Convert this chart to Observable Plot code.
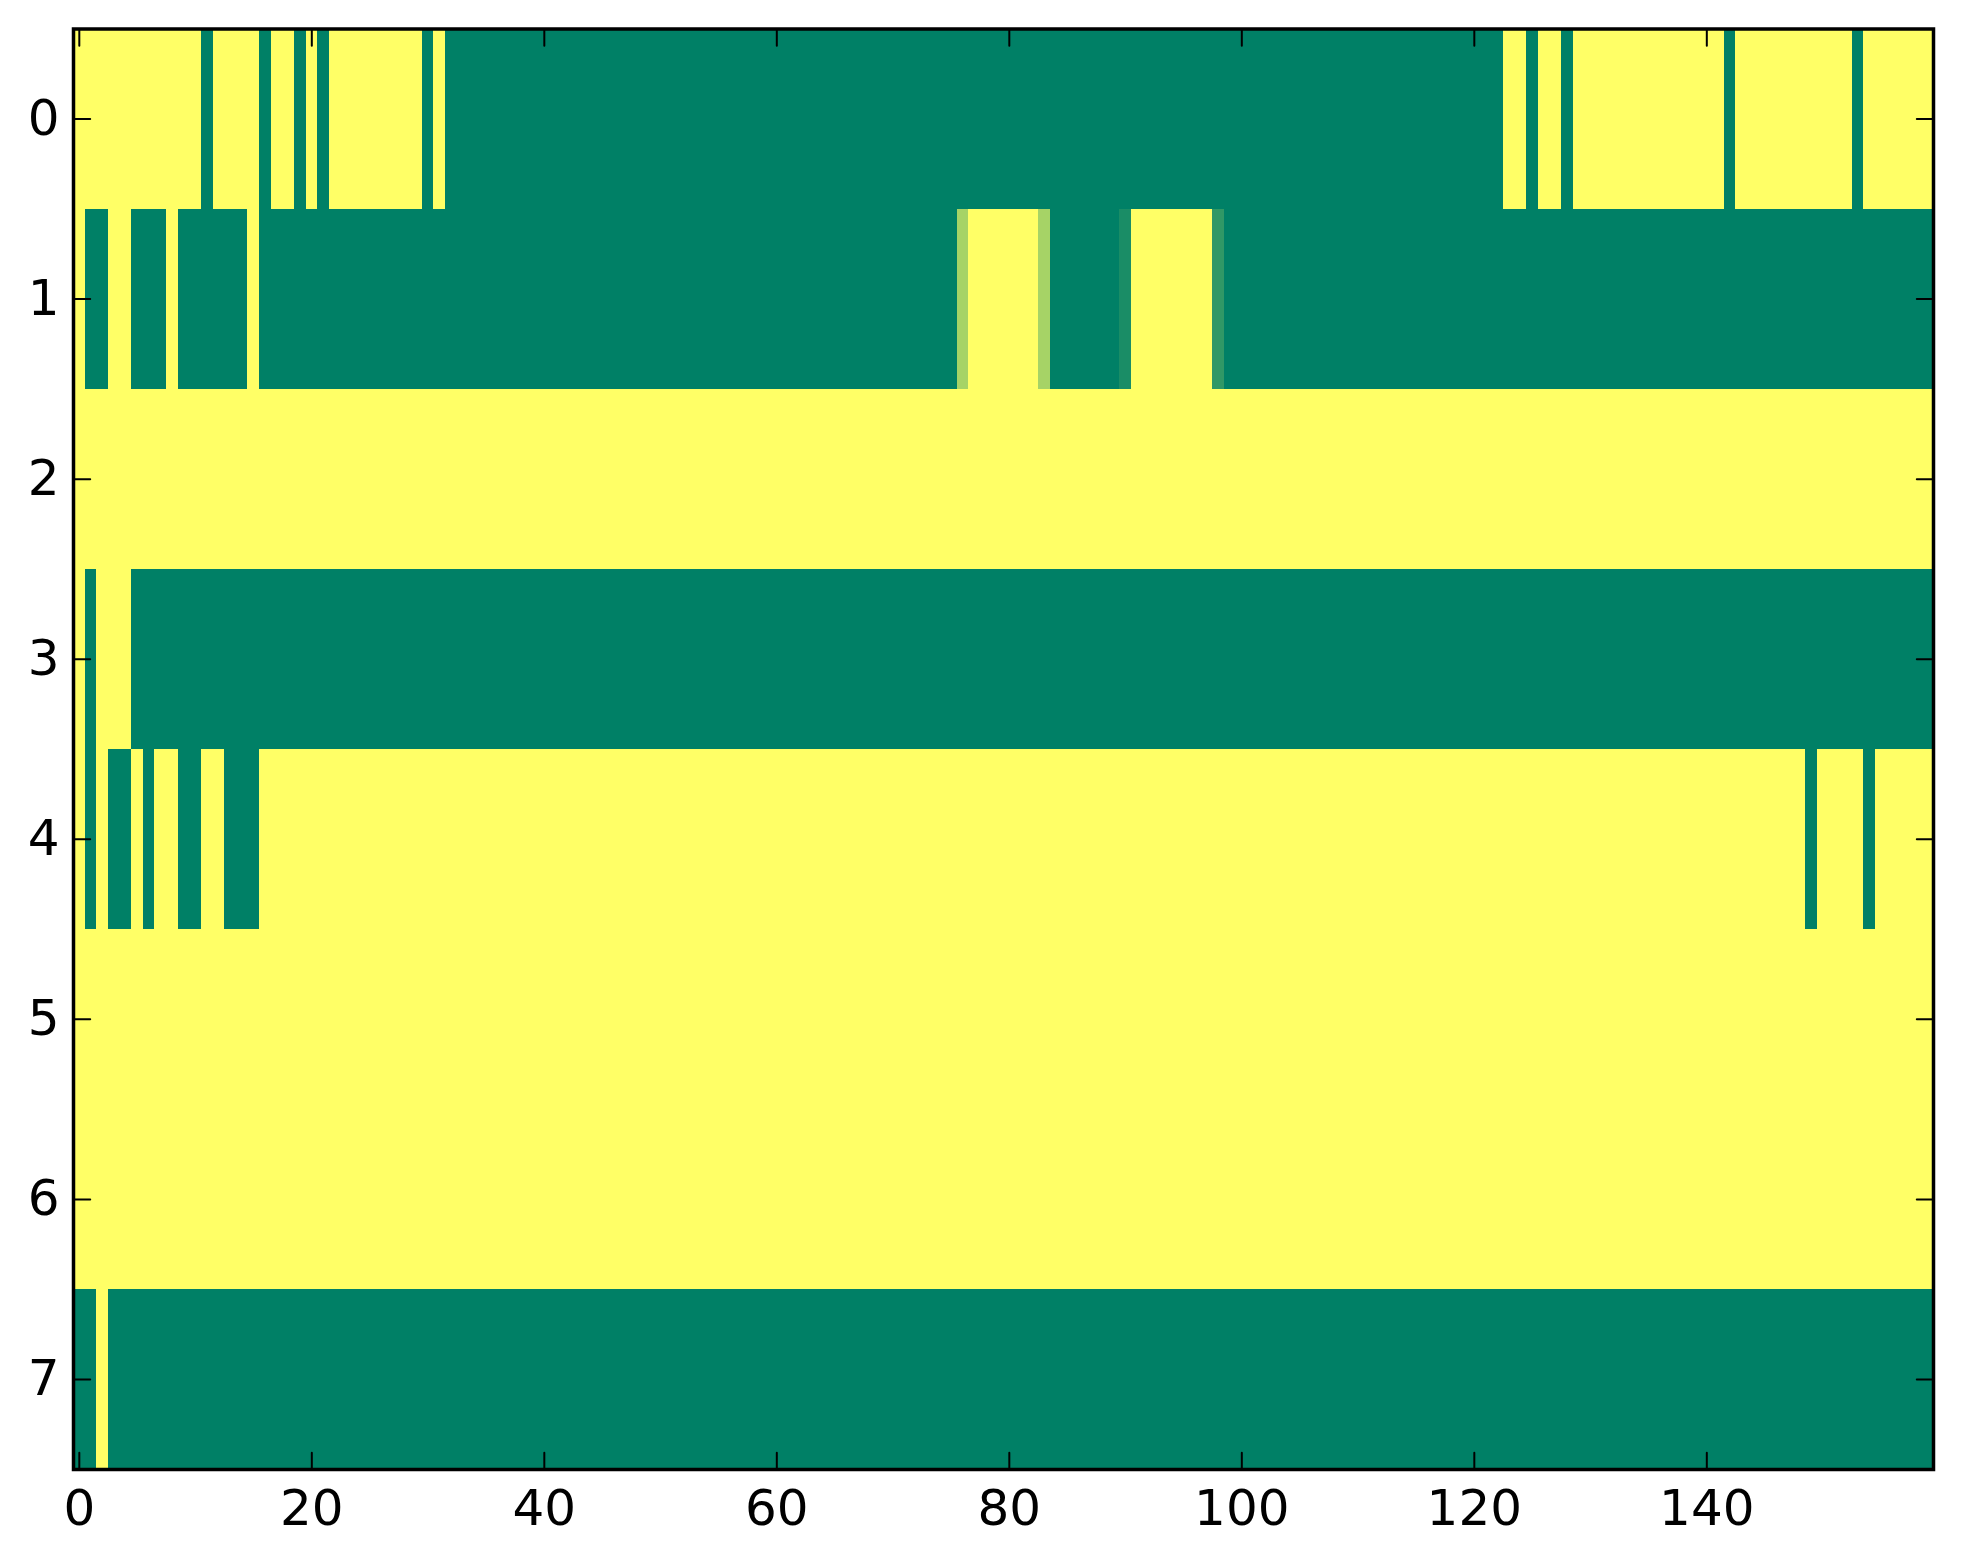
<!DOCTYPE html>
<html>
<head>
<meta charset="utf-8">
<script src="https://cdn.jsdelivr.net/npm/d3@7"></script>
<script src="https://cdn.jsdelivr.net/npm/@observablehq/plot@0.6"></script>
<style>
  html, body { margin: 0; padding: 0; background: #fff; }
  #chart svg { display: block; }
</style>
</head>
<body>
<div id="chart"></div>
<script>
// Each row: run-length list of [value, number of columns]; 1 = yellow, 0 = green
const row0 = [[1,11],[0,1],[1,4],[0,1],[1,2],[0,1],[1,1],[0,1],[1,8],[0,1],[1,1],[0,91],[1,2],[0,1],[1,2],[0,1],[1,13],[0,1],[1,10],[0,1],[1,6]];
const row1 = [[1,1],[0,2],[1,2],[0,3],[1,1],[0,6],[1,1],[0,60],[0.65,1],[1,6],[0.65,1],[0,6],[0.1,1],[1,7],[0.19,1],[0,61]];
const row2 = [[1,160]];
const row3 = [[1,1],[0,1],[1,3],[0,155]];
const row4 = [[1,1],[0,1],[1,1],[0,2],[1,1],[0,1],[1,2],[0,2],[1,2],[0,3],[1,133],[0,1],[1,4],[0,1],[1,5]];
const row5 = [[1,160]];
const row6 = [[1,160]];
const row7 = [[0,2],[1,1],[0,157]];
const rows = [row0, row1, row2, row3, row4, row5, row6, row7];

const xTicks = [0, 20, 40, 60, 80, 100, 120, 140];
const yTicks = [0, 1, 2, 3, 4, 5, 6, 7];
const nCols = 160;

// build one rect per run
const runs = [];
rows.forEach((r, ri) => {
  let start = 0;
  for (const [v, n] of r) {
    runs.push({row: ri, start, end: start + n, v});
    start += n;
  }
});

const tickLine = {draw(context, l) { context.moveTo(0, 0); context.lineTo(0, -l); }};
const TL = 16.7;

const chart = Plot.plot({
  width: 1963,
  height: 1564,
  marginLeft: 73,
  marginTop: 28.5,
  marginRight: 30,
  marginBottom: 95,
  style: {fontFamily: "DejaVu Sans", background: "#fff", color: "#000"},
  x: {domain: [-0.5, nCols - 0.5]},
  y: {domain: [-0.5, rows.length - 0.5], reverse: true},
  color: {type: "linear", domain: [0, 1], range: ["#008066", "#ffff66"], interpolate: "rgb"},
  marks: [
    Plot.rect(runs, {
      x1: d => d.start - 0.5, x2: d => d.end - 0.5,
      y1: d => d.row - 0.5, y2: d => d.row + 0.5,
      fill: "v", shapeRendering: "crispEdges"
    }),
    // inward ticks on all four sides
    Plot.vector(xTicks, {x: d => d, y: rows.length - 0.5, length: TL, rotate: 0, anchor: "start", shape: tickLine, stroke: "#000", strokeWidth: 2}),
    Plot.vector(xTicks, {x: d => d, y: -0.5, length: TL, rotate: 180, anchor: "start", shape: tickLine, stroke: "#000", strokeWidth: 2}),
    Plot.vector(yTicks, {x: -0.5, y: d => d, length: TL, rotate: 90, anchor: "start", shape: tickLine, stroke: "#000", strokeWidth: 2}),
    Plot.vector(yTicks, {x: nCols - 0.5, y: d => d, length: TL, rotate: -90, anchor: "start", shape: tickLine, stroke: "#000", strokeWidth: 2}),
    Plot.axisX(xTicks, {anchor: "bottom", tickSize: 0, tickPadding: 20, fontSize: 50, label: null, tickFormat: d => String(d)}),
    Plot.axisY(yTicks, {anchor: "left", tickSize: 0, tickPadding: 14, fontSize: 50, label: null, tickFormat: d => String(d)}),
    Plot.frame({stroke: "#000", strokeWidth: 3.5})
  ]
});
document.getElementById("chart").append(chart);
</script>
</body>
</html>
